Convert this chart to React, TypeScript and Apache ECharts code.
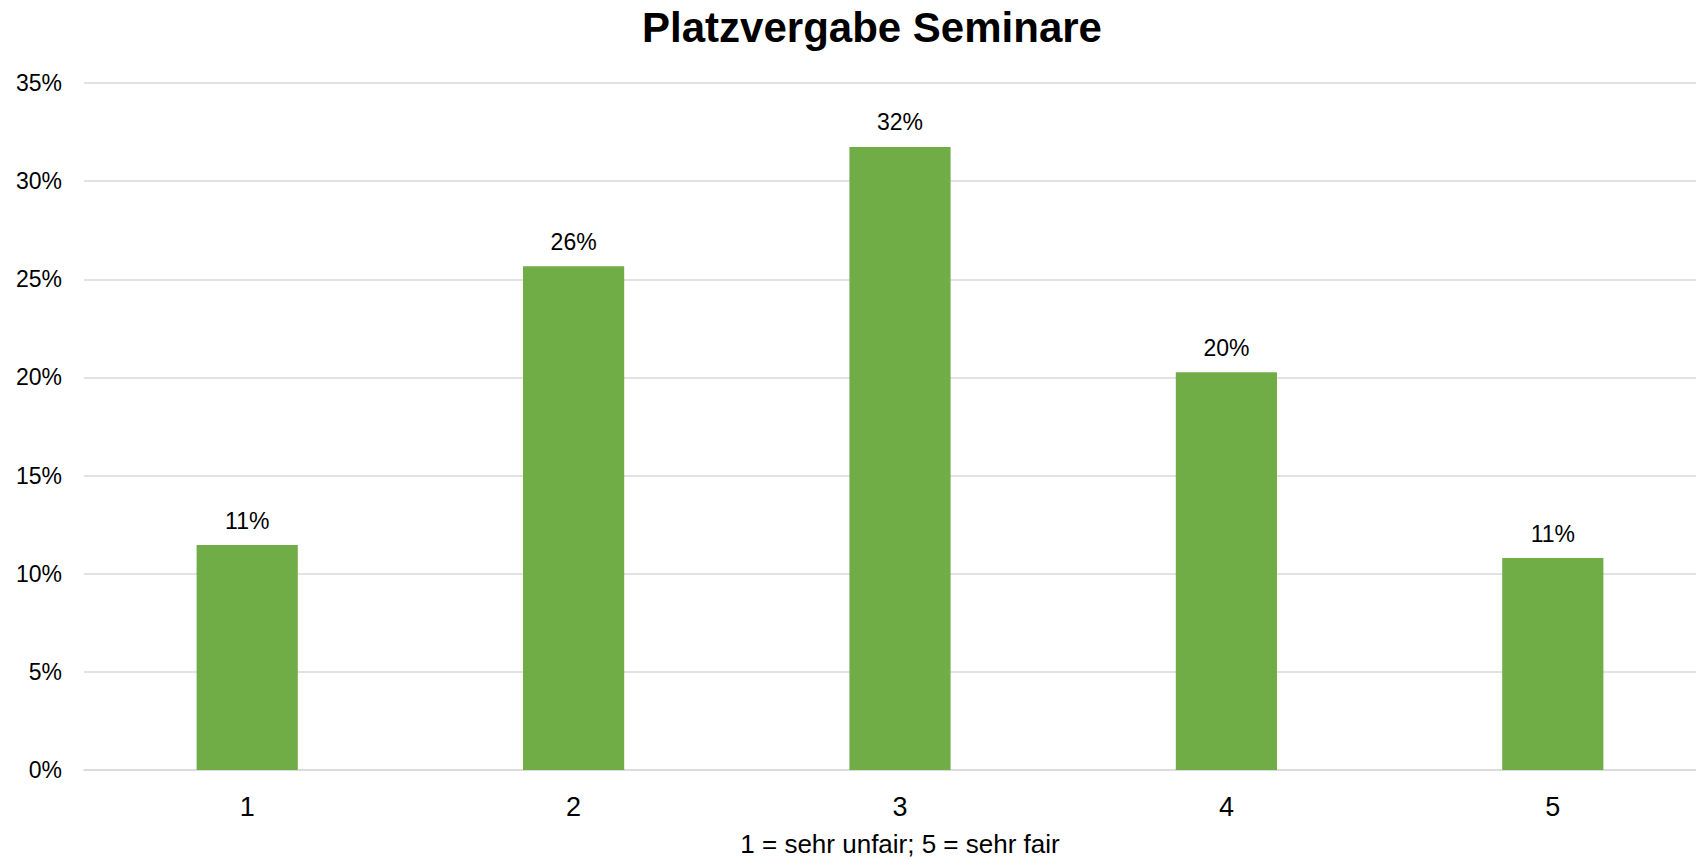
import React, { useEffect, useRef } from "react";
import * as echarts from "echarts";

const categories = ["1", "2", "3", "4", "5"];
const shares = [11.46, 25.67, 31.74, 20.26, 10.8];
const yTicks = { min: 0, max: 35, interval: 5 };
const titleText = "Platzvergabe Seminare";
const xName = "1 = sehr unfair; 5 = sehr fair";

const FONT = "'Liberation Sans', Arial, sans-serif";

export default function App() {
  const ref = useRef<HTMLDivElement>(null);
  useEffect(() => {
    if (!ref.current) return;
    const chart = echarts.init(ref.current, undefined, { renderer: "svg" });
    chart.setOption({
      animation: false,
      backgroundColor: "#ffffff",
      textStyle: { fontFamily: FONT },
      grid: { left: 84, right: 0, top: 83, bottom: 90, containLabel: false },
      xAxis: {
        type: "category",
        data: categories,
        axisLine: { show: true, lineStyle: { color: "#D9D9D9", width: 1.5 } },
        axisTick: { show: false },
        axisLabel: { color: "#000", fontSize: 27, margin: 23, fontFamily: FONT },
      },
      yAxis: {
        type: "value",
        min: yTicks.min,
        max: yTicks.max,
        interval: yTicks.interval,
        axisLine: { show: false },
        axisTick: { show: false },
        splitLine: { lineStyle: { color: "#D9D9D9", width: 1.5 } },
        axisLabel: {
          color: "#000",
          fontSize: 23,
          margin: 22,
          fontFamily: FONT,
          formatter: (v: number) => v + "%",
        },
      },
      graphic: [
        {
          type: "text",
          x: 872,
          y: 27,
          style: {
            text: titleText,
            fill: "#000",
            font: `bold 42px ${FONT}`,
            textAlign: "center",
            textVerticalAlign: "middle",
          },
        },
        {
          type: "text",
          x: 900,
          y: 844,
          style: {
            text: xName,
            fill: "#000",
            font: `26px ${FONT}`,
            textAlign: "center",
            textVerticalAlign: "middle",
          },
        },
      ],
      series: [
        {
          type: "bar",
          data: shares,
          barWidth: "31%",
          itemStyle: { color: "#70AD47" },
          label: {
            show: true,
            position: "top",
            distance: 13,
            color: "#000",
            fontSize: 23,
            fontFamily: FONT,
            formatter: (p: any) => Math.round(p.value) + "%",
          },
        },
      ],
    });
    return () => chart.dispose();
  }, []);
  return (
    <div style={{ position: "fixed", left: 0, top: 0, width: 1696, height: 860, overflow: "hidden", background: "#fff" }}>
      <div ref={ref} style={{ width: 1716, height: 860 }} />
    </div>
  );
}
